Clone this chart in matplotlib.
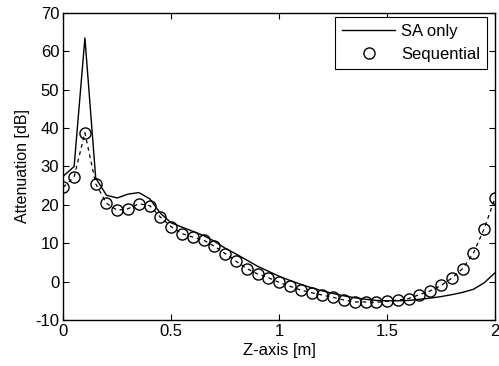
import matplotlib
matplotlib.use("Agg")
import matplotlib.pyplot as plt
import numpy as np

z = [0.00, 0.05, 0.10, 0.15, 0.20, 0.25, 0.30, 0.35, 0.40, 0.45,
     0.50, 0.55, 0.60, 0.65, 0.70, 0.75, 0.80, 0.85, 0.90, 0.95,
     1.00, 1.05, 1.10, 1.15, 1.20, 1.25, 1.30, 1.35, 1.40, 1.45,
     1.50, 1.55, 1.60, 1.65, 1.70, 1.75, 1.80, 1.85, 1.90, 1.95, 2.00]

sa_only = [27.5, 30.0, 63.5, 27.0, 22.5, 21.8, 22.8, 23.2, 21.6, 17.8,
           15.3, 14.2, 13.1, 12.0, 10.5, 8.7, 7.2, 5.6, 4.0, 2.7,
           1.4, 0.3, -0.7, -1.6, -2.4, -3.1, -3.7, -4.2, -4.6, -4.9,
           -5.0, -5.0, -4.9, -4.6, -4.3, -3.9, -3.4, -2.8, -2.0, -0.3, 2.3]

sequential = [24.6, 27.3, 38.8, 25.5, 20.4, 18.6, 19.0, 20.3, 19.8, 16.8,
              14.3, 12.5, 11.6, 10.8, 9.2, 7.3, 5.3, 3.4, 2.0, 1.0,
              -0.2, -1.2, -2.2, -2.9, -3.5, -4.1, -4.8, -5.3, -5.3, -5.4,
              -5.1, -4.8, -4.4, -3.4, -2.4, -1.0, 0.9, 3.4, 7.4, 13.8, 21.8]

xticks = [0, 0.5, 1, 1.5, 2]
xticklabels = ["0", "0.5", "1", "1.5", "2"]
yticks = [-10, 0, 10, 20, 30, 40, 50, 60, 70]

plt.rcParams['font.family'] = ['Liberation Sans', 'DejaVu Sans']
plt.rcParams['font.size'] = 12
plt.rcParams['axes.unicode_minus'] = False

fig = plt.figure(figsize=(4.99, 3.66), dpi=100)
ax = fig.add_axes([0.1269, 0.1257, 0.8651, 0.8388])

ax.plot(z, sa_only, color='black', linewidth=1.0, label='SA only')
ax.plot(z, sequential, color='black', linewidth=0.9, linestyle=(0, (3, 3)))
ax.plot(z, sequential, linestyle='none', marker='o', markersize=8,
        markerfacecolor='none', markeredgecolor='black', markeredgewidth=1.0,
        label='Sequential')

ax.set_xlim(0, 2)
ax.set_ylim(-10, 70)
ax.set_xticks(xticks)
ax.set_xticklabels(xticklabels)
ax.set_yticks(yticks)
ax.tick_params(direction='in', top=True, right=True, length=4, width=0.8,
               labelsize=12, pad=3)
for s in ax.spines.values():
    s.set_linewidth(1.0)

ax.set_xlabel('Z-axis [m]', fontsize=12, labelpad=3)
ax.set_ylabel('Attenuation [dB]', fontsize=11.5, labelpad=4)

leg = ax.legend(loc='upper right', bbox_to_anchor=(0.981, 0.987),
                fancybox=False, framealpha=1,
                edgecolor='black', borderaxespad=0.0, handlelength=3.2,
                handletextpad=0.35, borderpad=0.4, labelspacing=0.5,
                fontsize=12)
leg.get_frame().set_linewidth(0.8)

fig.savefig('out.png', dpi=100)
